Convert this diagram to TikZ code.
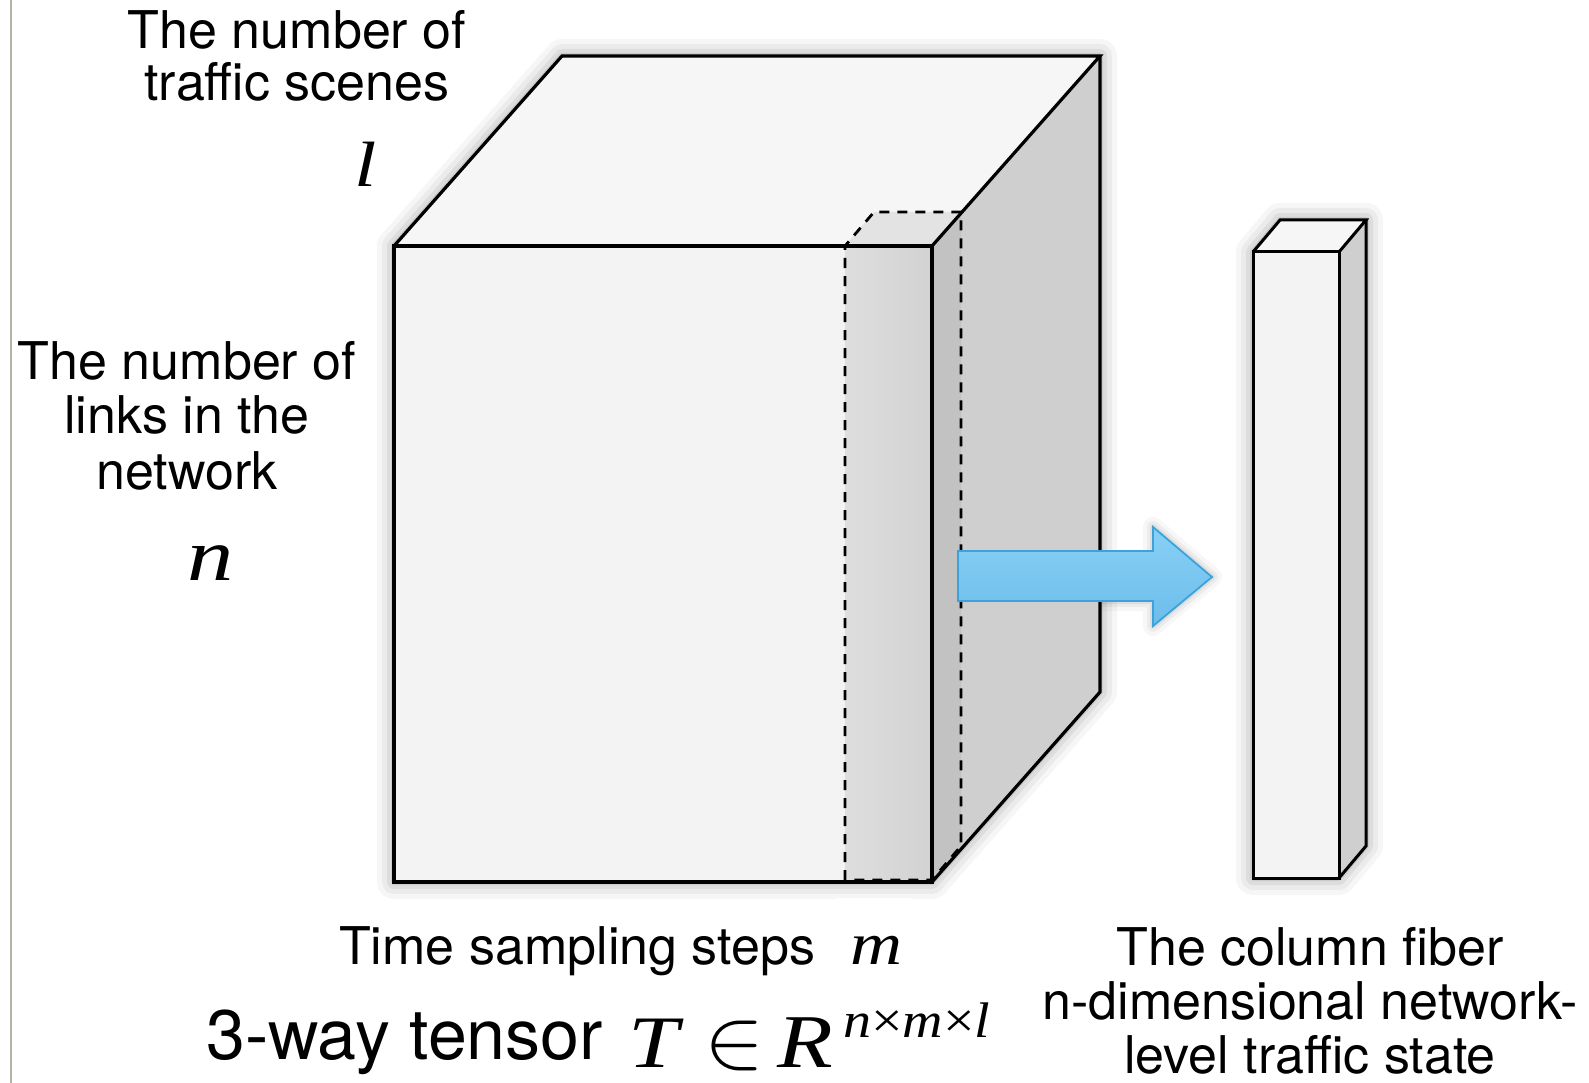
\documentclass[tikz,border=0pt]{standalone}
\usepackage{fontspec}
\setmainfont{TeX Gyre Heros}
\newfontfamily\tms{Liberation Serif}
\usepackage{graphicx}
\newcommand{\wideit}[3]{\scalebox{#2}[1]{\fontsize{#1}{#1}\tms\itshape #3}}
\definecolor{frontc}{HTML}{F3F3F3}
\definecolor{topc}{HTML}{F6F6F6}
\definecolor{sidec}{HTML}{CFCFCF}
\definecolor{fibfrontL}{HTML}{DEDEDE}
\definecolor{fibfrontR}{HTML}{D2D2D2}
\definecolor{fibside}{HTML}{C2C2C2}
\definecolor{fibtop}{HTML}{E3E3E3}
\definecolor{arrowtop}{HTML}{88D0F6}
\definecolor{arrowbot}{HTML}{6CBDEB}
\definecolor{arrowedge}{HTML}{3BA2DA}
\definecolor{borderc}{HTML}{B5B5A3}
\begin{document}
\begin{tikzpicture}[x=1pt,y=-1pt,
  edge/.style={line width=3.2pt},
  dashedge/.style={line width=2.8pt, dash pattern=on 10pt off 8pt},
  lbl/.style={inner sep=0pt, font=\fontsize{52}{56}\selectfont},
  mathlbl/.style={inner sep=0pt}]
\fill[white] (0,0) rectangle (1589,1083);
\useasboundingbox (0,0) rectangle (1589,1083);
\draw[borderc, line width=2pt] (11,0) -- (11,1083);

% cube corners
\coordinate (A) at (394,246);
\coordinate (B) at (932,246);
\coordinate (C) at (932,882);
\coordinate (D) at (394,882);
\coordinate (E) at (562,56);
\coordinate (F) at (1100,56);
\coordinate (G) at (1100,692);
% dashed fiber corners
\coordinate (P) at (845,246);
\coordinate (Q) at (845,880);
\coordinate (R) at (932,880);
\coordinate (Pb) at (874,212);
\coordinate (Bb) at (961,212);
\coordinate (Rb) at (961,846);
% right fiber corners
\coordinate (a) at (1253,252);
\coordinate (b) at (1339,252);
\coordinate (c) at (1339,878);
\coordinate (d) at (1253,878);
\coordinate (e) at (1280,220);
\coordinate (f) at (1366,220);
\coordinate (g) at (1366,846);
% arrow points
\coordinate (s1) at (958,551);
\coordinate (s2) at (1153,551);
\coordinate (h1) at (1153,527);
\coordinate (tip) at (1212,577);
\coordinate (h2) at (1153,626);
\coordinate (s3) at (1153,601);
\coordinate (s4) at (958,601);

% shadows
\begin{scope}[shift={(5,9)}]
\foreach \w/\o in {34/0.035, 24/0.045, 14/0.06, 6/0.08}{
  \draw[black, opacity=\o, line width=\w pt, line join=round] (D)--(A)--(E)--(F)--(G)--(C)--cycle;
  \draw[black, opacity=\o, line width=\w pt, line join=round] (d)--(a)--(e)--(f)--(g)--(c)--cycle;
}
\end{scope}
\begin{scope}[shift={(3,6)}]
\foreach \w/\o in {20/0.03, 12/0.045, 6/0.06}{
  \draw[black, opacity=\o, line width=\w pt, line join=round] (s2)--(h1)--(tip)--(h2)--(s3)--(s4);
}
\end{scope}
\fill[white] (836,898) rectangle (912,914);

% cube faces
\fill[frontc] (A) rectangle (C);
\fill[topc] (A)--(E)--(F)--(B)--cycle;
\fill[sidec] (B)--(F)--(G)--(C)--cycle;
% fiber region inside cube
\shade[left color=fibfrontL, right color=fibfrontR] (P) rectangle (R);
\fill[fibtop] (P)--(Pb)--(Bb)--(B)--cycle;
\fill[fibside] (B)--(Bb)--(Rb)--(R)--cycle;
% cube edges
\draw[edge] (A) rectangle (C);
\draw[edge] (A)--(E)--(F)--(B);
\draw[edge] (F)--(G)--(C);
% dashed fiber outline
\draw[dashedge] (Q)--(P)--(Pb)--(Bb)--(Rb)--(R)--cycle;

% arrow
\shade[top color=arrowtop, bottom color=arrowbot] (s1)--(s2)--(h1)--(tip)--(h2)--(s3)--(s4)--cycle;
\draw[arrowedge, line width=1.8pt, line join=miter] (s1)--(s2)--(h1)--(tip)--(h2)--(s3)--(s4)--cycle;

% right fiber
\fill[frontc] (a) rectangle (c);
\fill[topc] (a)--(e)--(f)--(b)--cycle;
\fill[sidec] (b)--(f)--(g)--(c)--cycle;
\draw[line width=3pt] (a) rectangle (c);
\draw[line width=3pt] (a)--(e)--(f)--(b);
\draw[line width=3pt] (f)--(g)--(c);

% labels
\node[lbl, anchor=base] (t1) at (297,49) {The number of};
\node[lbl, anchor=base] (t2) at (297,101) {traffic scenes};
\node[mathlbl, anchor=base] (tl) at (366,187) {\wideit{64}{1.25}{l}};
\node[lbl, anchor=base] (n1) at (187,379) {The number of};
\node[lbl, anchor=base] (n2) at (187,433) {links in the};
\node[lbl, anchor=base] (n3) at (187,489) {network};
\node[mathlbl, anchor=base] (nn) at (211,580) {\wideit{74}{1.25}{n}};
\node[lbl, anchor=base west] (ts) at (339,964) {Time sampling steps};
\node[mathlbl, anchor=base] (tm) at (876,964) {\wideit{60}{1.2}{m}};
\node[inner sep=0pt, anchor=base west, font=\fontsize{70}{72}\selectfont] (tw) at (206,1059) {3-way tensor};
\node[mathlbl, anchor=base west] (tT) at (628,1067) {\wideit{74}{1.22}{T}};
\node[mathlbl, anchor=base west] (tin) at (704,1067) {\scalebox{9}[8.6]{$\in$}};
\node[mathlbl, anchor=base west] (tR) at (777,1067) {\wideit{76}{1.2}{R}};
\node[mathlbl, anchor=base west] (tsup) at (843,1037) {\wideit{50}{1.12}{n\textup{×}m\textup{×}l}};
\node[lbl, anchor=base] (c1) at (1310,965) {The column fiber};
\node[lbl, anchor=base] (c2) at (1310,1019) {n-dimensional network-};
\node[lbl, anchor=base] (c3) at (1310,1073) {level traffic state};
\end{tikzpicture}
\end{document}
